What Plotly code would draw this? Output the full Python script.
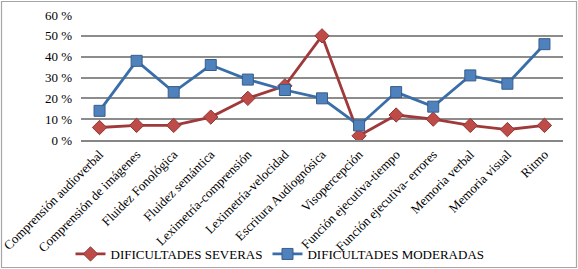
import plotly.graph_objects as go

categories = ["Comprensión audioverbal", "Comprensión de imágenes", "Fluidez Fonológica",
              "Fluidez semántica", "Leximetría-comprensión", "Leximetría-velocidad",
              "Escritura Audiognósica", "Visopercepción", "Función ejecutiva-tiempo",
              "Función ejecutiva- errores", "Memoria verbal", "Memoria visual", "Ritmo"]
severas = [6, 7, 7, 11, 20, 26, 50, 2, 12, 10, 7, 5, 7]
moderadas = [14, 38, 23, 36, 29, 24, 20, 7, 23, 16, 31, 27, 46]
y_ticks = [0, 10, 20, 30, 40, 50, 60]

W, H = 578, 269
L, R, T, B = 81, 15, 15, 129
pw, ph = W - L - R, H - T - B

def px(x):
    return (x - L) / pw

def py(y):
    return (H - B - y) / ph

font = "Times New Roman, Liberation Serif, serif"

fig = go.Figure()
fig.add_trace(go.Scatter(
    x=categories, y=severas, name="DIFICULTADES SEVERAS", mode="lines+markers",
    line=dict(color="#A0393A", width=2.8),
    marker=dict(symbol="diamond", size=11, color="#BE4B48", line=dict(color="#8C3836", width=1)),
))
fig.add_trace(go.Scatter(
    x=categories, y=moderadas, name="DIFICULTADES MODERADAS", mode="lines+markers",
    line=dict(color="#3A6EA8", width=2.8),
    marker=dict(symbol="square", size=11, color="#4F81BD", line=dict(color="#385D8A", width=1)),
))

fig.update_layout(
    width=W, height=H,
    margin=dict(l=L, r=R, t=T, b=B, pad=0, autoexpand=False),
    paper_bgcolor="white", plot_bgcolor="white",
    font=dict(family=font, size=13, color="black"),
    showlegend=True,
    legend=dict(orientation="h", x=px(280), xanchor="center", y=py(254), yanchor="middle",
                font=dict(family=font, size=13, color="black"), itemwidth=30, tracegroupgap=0,
                bgcolor="rgba(0,0,0,0)"),
    xaxis=dict(tickangle=-45, showgrid=False, showline=True, linecolor="#868686", linewidth=1.5,
               ticks="", tickfont=dict(family=font, size=13, color="black"),
               range=[-0.5, 12.5], automargin=False),
    yaxis=dict(range=[0, 60], tickvals=y_ticks, ticktext=[f"{v} %" for v in y_ticks],
               showgrid=True, gridcolor="#8C8C8C", gridwidth=1.5, zeroline=False,
               showline=False, ticks="", ticklabelstandoff=8, automargin=False,
               tickfont=dict(family=font, size=13, color="black")),
    shapes=[dict(type="rect", xref="paper", yref="paper",
                 x0=px(1.5), x1=px(W - 1.5), y0=py(H - 1.5), y1=py(1.5),
                 line=dict(color="#A6A6A6", width=1.2))],
)

fig.write_html("out.html", config={"displayModeBar": False},
               post_script="document.body.style.margin='0';document.body.style.overflow='hidden';")
